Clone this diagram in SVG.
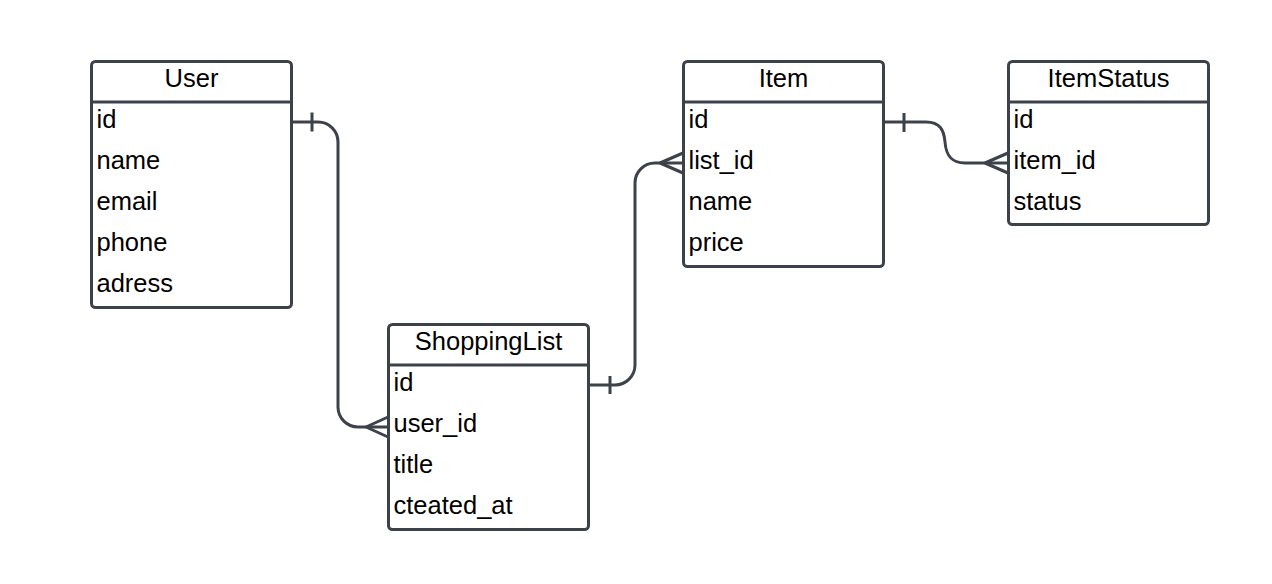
<svg xmlns="http://www.w3.org/2000/svg" width="1272" height="584" viewBox="0 0 1272 584">
<style>
.box{fill:#ffffff;stroke:#3d424a;stroke-width:3}
.div{stroke:#3d424a;stroke-width:3}
.t{font-family:"Liberation Sans",Arial,sans-serif;font-size:25.5px;fill:#000000}
.h{text-anchor:middle}
.c{fill:none;stroke:#3d424a;stroke-width:3;stroke-linecap:butt}
</style>
<rect width="1272" height="584" fill="#ffffff"/>
<g id="connectors">
<path class="c" d="M291.5,122 H318 A20,20 0 0 1 338,142 V407 A20,20 0 0 0 358,427 H388"/>
<path class="c" d="M312,112.5 V131.5 M366,427 L388,417 M366,427 L388,437"/>
<path class="c" d="M588.5,385 H615 A20,20 0 0 0 635,365 V183 A20,20 0 0 1 655,163 H683"/>
<path class="c" d="M610,376 V394 M660,163 L683,153 M660,163 L683,173"/>
<path class="c" d="M883.5,122 H926 C940,122 944,130 945,142 C946,155 951,163 965,163 H1008"/>
<path class="c" d="M904,113 V132 M985,163 L1008,153 M985,163 L1008,173"/>
</g>
<g id="User">
<rect class="box" x="91.5" y="61.5" width="200" height="246" rx="4"/>
<line class="div" x1="91.5" y1="102" x2="291.5" y2="102"/>
<text class="t h" x="191.5" y="86.5">User</text>
<text class="t" x="96.5" y="127.5">id</text>
<text class="t" x="96.5" y="168.5">name</text>
<text class="t" x="96.5" y="209.5">email</text>
<text class="t" x="96.5" y="250.5">phone</text>
<text class="t" x="96.5" y="291.5">adress</text>
</g>
<g id="ShoppingList">
<rect class="box" x="388.5" y="324.5" width="200" height="205" rx="4"/>
<line class="div" x1="388.5" y1="365" x2="588.5" y2="365"/>
<text class="t h" x="488.5" y="350">ShoppingList</text>
<text class="t" x="393.5" y="390.5">id</text>
<text class="t" x="393.5" y="431.5">user_id</text>
<text class="t" x="393.5" y="472.5">title</text>
<text class="t" x="393.5" y="513.5">cteated_at</text>
</g>
<g id="Item">
<rect class="box" x="683.5" y="61.5" width="200" height="205" rx="4"/>
<line class="div" x1="683.5" y1="102" x2="883.5" y2="102"/>
<text class="t h" x="783.5" y="86.5">Item</text>
<text class="t" x="688.5" y="127.5">id</text>
<text class="t" x="688.5" y="168.5">list_id</text>
<text class="t" x="688.5" y="209.5">name</text>
<text class="t" x="688.5" y="250.5">price</text>
</g>
<g id="ItemStatus">
<rect class="box" x="1008.5" y="61.5" width="200" height="163" rx="4"/>
<line class="div" x1="1008.5" y1="102" x2="1208.5" y2="102"/>
<text class="t h" x="1108.5" y="86.5">ItemStatus</text>
<text class="t" x="1013.5" y="127.5">id</text>
<text class="t" x="1013.5" y="168.5">item_id</text>
<text class="t" x="1013.5" y="209.5">status</text>
</g>
</svg>
